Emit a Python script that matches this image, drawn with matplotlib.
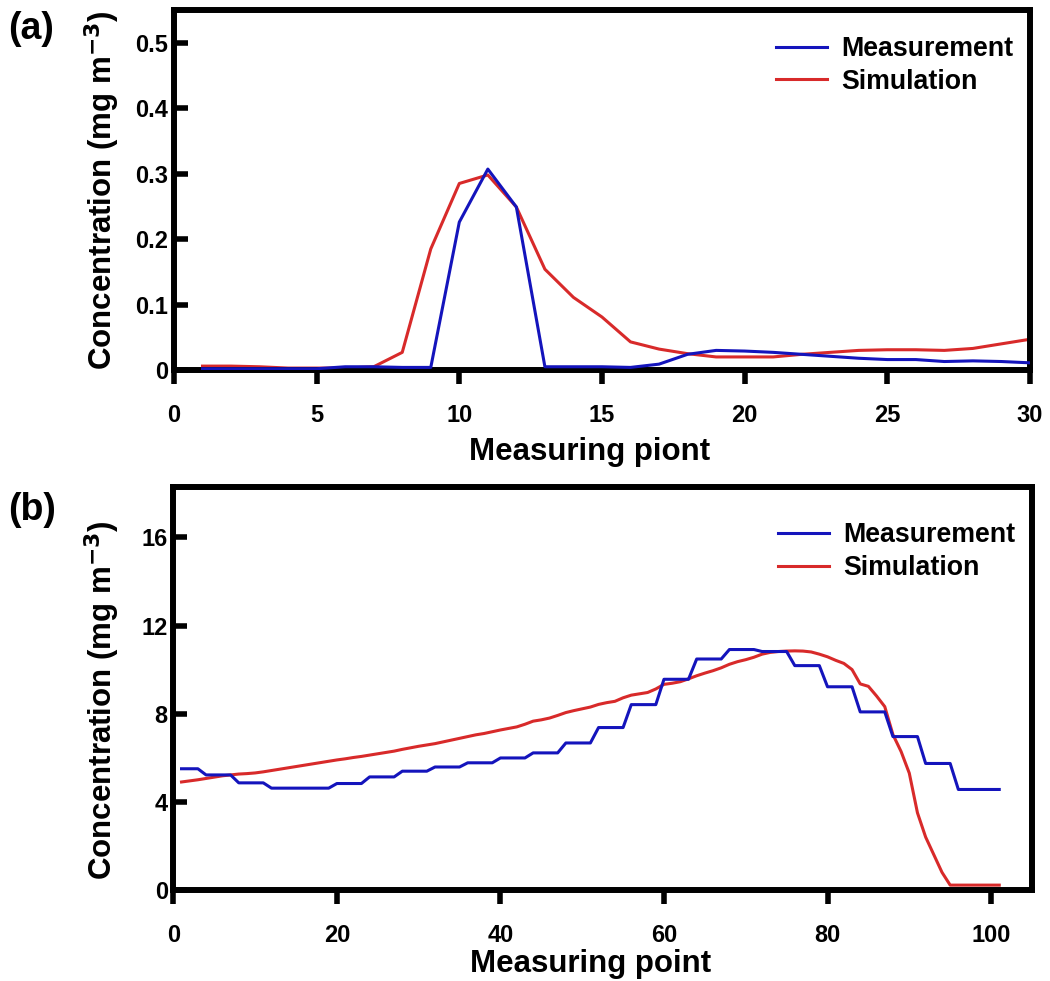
import matplotlib
matplotlib.use("Agg")
import matplotlib.pyplot as plt

plt.rcParams['font.family'] = ['Liberation Sans', 'DejaVu Sans']
plt.rcParams['font.weight'] = 'bold'
plt.rcParams['mathtext.default'] = 'bf'

# ---- Panel (a) data ----
points_a = list(range(1, 31))
meas_a = [0.002, 0.002, 0.002, 0.002, 0.002, 0.005, 0.005, 0.004, 0.004, 0.226,
          0.307, 0.249, 0.005, 0.005, 0.005, 0.004, 0.009, 0.024, 0.030, 0.029,
          0.027, 0.024, 0.021, 0.018, 0.016, 0.016, 0.013, 0.014, 0.013, 0.011]
sim_a = [0.006, 0.006, 0.005, 0.003, 0.003, 0.003, 0.005, 0.027, 0.185, 0.285,
         0.298, 0.249, 0.154, 0.111, 0.081, 0.043, 0.032, 0.025, 0.020, 0.020,
         0.020, 0.024, 0.027, 0.030, 0.031, 0.031, 0.030, 0.033, 0.040, 0.047]

# ---- Panel (b) data ----
points_b = list(range(1, 102))
meas_b = ([5.50] * 3 + [5.22] * 4 + [4.86] * 4 + [4.62] * 8 + [4.83] * 4 +
          [5.13] * 4 + [5.39] * 4 + [5.58] * 4 + [5.77] * 4 + [5.99] * 4 +
          [6.22] * 4 + [6.67] * 4 + [7.37] * 4 + [8.41] * 4 + [9.56] * 4 +
          [10.48] * 4 + [10.91] * 4 + [10.82] * 4 + [10.18] * 4 + [9.22] * 4 +
          [8.08] * 4 + [6.96] * 4 + [5.74] * 4 + [4.56] * 6)
sim_b = [4.90, 4.95, 5.00, 5.06, 5.12, 5.18, 5.22, 5.26, 5.28, 5.31,
         5.36, 5.42, 5.48, 5.54, 5.60, 5.66, 5.72, 5.78, 5.84, 5.90,
         5.95, 6.01, 6.06, 6.12, 6.18, 6.24, 6.30, 6.38, 6.45, 6.52,
         6.58, 6.64, 6.72, 6.80, 6.88, 6.96, 7.04, 7.10, 7.18, 7.26,
         7.33, 7.40, 7.52, 7.66, 7.72, 7.80, 7.92, 8.05, 8.14, 8.22,
         8.30, 8.42, 8.50, 8.56, 8.72, 8.84, 8.90, 8.96, 9.12, 9.33,
         9.38, 9.45, 9.58, 9.72, 9.84, 9.95, 10.08, 10.24, 10.36, 10.45,
         10.56, 10.70, 10.78, 10.82, 10.84, 10.85, 10.84, 10.80, 10.70, 10.58,
         10.42, 10.28, 10.00, 9.35, 9.24, 8.80, 8.32, 7.05, 6.28, 5.30,
         3.50, 2.40, 1.60, 0.80, 0.22, 0.22, 0.22, 0.22, 0.22, 0.22, 0.22]

xticks_a = [0, 5, 10, 15, 20, 25, 30]
yticks_a = [0, 0.1, 0.2, 0.3, 0.4, 0.5]
ytick_labels_a = ['0', '0.1', '0.2', '0.3', '0.4', '0.5']
xticks_b = [0, 20, 40, 60, 80, 100]
yticks_b = [0, 4, 8, 12, 16]

BLUE = '#1414bc'
RED = '#d82a2a'

fig = plt.figure(figsize=(10.5, 9.81), dpi=100)
ax1 = fig.add_axes([0.1657, 0.6228, 0.8152, 0.367])
ax2 = fig.add_axes([0.1651, 0.0928, 0.8177, 0.4111])

ylabel = 'Concentration (mg m$^{-3}$)'
TICK_FS = 17
LABEL_FS = 22.5
LEG_FS = 19.3

for ax in (ax1, ax2):
    for s in ax.spines.values():
        s.set_linewidth(4.3)
    ax.tick_params(axis='x', direction='out', length=10, width=4, labelsize=TICK_FS, pad=14.5)
    ax.tick_params(axis='y', direction='in', length=10, width=4, labelsize=TICK_FS, pad=4)

# Panel (a)
ax1.plot(points_a, meas_a, color=BLUE, lw=2.2, label='Measurement', zorder=3)
ax1.plot(points_a, sim_a, color=RED, lw=2.2, label='Simulation', zorder=2)
ax1.set_xlim(0, 30)
ax1.set_ylim(0, 0.55)
ax1.set_xticks(xticks_a)
ax1.set_xticklabels([str(t) for t in xticks_a], fontweight='bold')
ax1.set_yticks(yticks_a)
ax1.set_yticklabels(ytick_labels_a, fontweight='bold')
ax1.set_xlabel('Measuring piont', fontsize=LABEL_FS, fontweight='bold')
ax1.xaxis.set_label_coords(0.486, -0.186)
ax1.set_ylabel(ylabel, fontsize=LABEL_FS, fontweight='bold', labelpad=10)
leg1 = ax1.legend(loc='upper right', frameon=False, fontsize=LEG_FS, handlelength=1.9,
                  handletextpad=0.5, borderaxespad=0.3, bbox_to_anchor=(1.002, 0.98),
                  labelspacing=0.25)
for t in leg1.get_texts():
    t.set_fontweight('bold')

# Panel (b)
ax2.plot(points_b, meas_b, color=BLUE, lw=2.2, label='Measurement', zorder=3)
ax2.plot(points_b, sim_b, color=RED, lw=2.2, label='Simulation', zorder=2)
ax2.set_xlim(0, 105)
ax2.set_ylim(0, 18.3)
ax2.set_xticks(xticks_b)
ax2.set_xticklabels([str(t) for t in xticks_b], fontweight='bold')
ax2.set_yticks(yticks_b)
ax2.set_yticklabels([str(t) for t in yticks_b], fontweight='bold')
ax2.set_xlabel('Measuring point', fontsize=LABEL_FS, fontweight='bold')
ax2.xaxis.set_label_coords(0.486, -0.146)
ax2.set_ylabel(ylabel, fontsize=LABEL_FS, fontweight='bold', labelpad=14)
ax2.yaxis.label.set_y(0.47)
leg2 = ax2.legend(loc='upper right', frameon=False, fontsize=LEG_FS, handlelength=1.9,
                  handletextpad=0.5, borderaxespad=0.3, bbox_to_anchor=(1.002, 0.958),
                  labelspacing=0.25)
for t in leg2.get_texts():
    t.set_fontweight('bold')

fig.text(0.008, 0.989, '(a)', fontsize=27, fontweight='bold', va='top', ha='left')
fig.text(0.008, 0.498, '(b)', fontsize=27, fontweight='bold', va='top', ha='left')

fig.savefig('out.png', dpi=100)
